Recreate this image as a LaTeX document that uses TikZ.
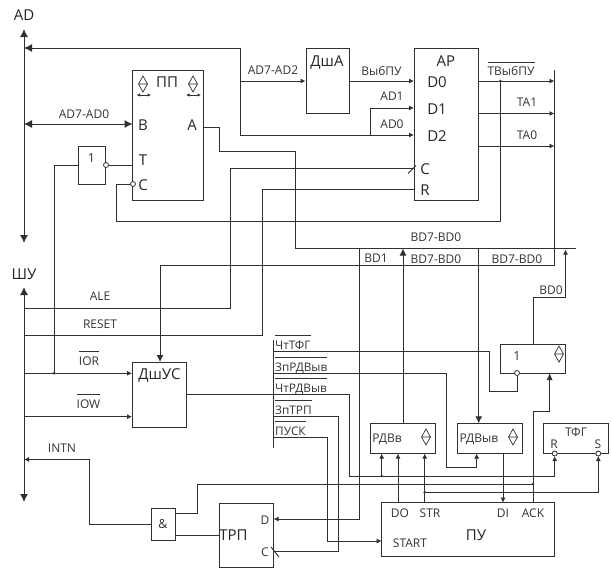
\documentclass[tikz,border=0pt]{standalone}
\usepackage{fontspec}
\setmainfont{Open Sans}
\usetikzlibrary{arrows.meta}
\newcommand\oltext[2][5pt]{\vbox{\hrule height .8pt \kern #1\hbox{#2}}}
\definecolor{ln}{HTML}{303030}
\tikzset{
  wire/.style={draw=ln,line width=.9pt},
  sig/.style={wire,-{Latex[length=5pt,width=5pt]}},
  bigsig/.style={wire,-{Latex[length=7pt,width=7pt]}},
  bus/.style={wire,line width=1pt,{Latex[length=8pt,width=8pt]}-{Latex[length=8pt,width=8pt]}},
  box/.style={draw=ln,line width=.9pt,inner sep=0pt,fill=white},
  lab/.style={inner sep=0pt,text=black!80,font=\fontsize{12}{14}\selectfont,anchor=base},
  llab/.style={inner sep=0pt,text=black!85,font=\fontsize{15}{17}\selectfont,anchor=base},
  sl/.style={inner sep=0pt,text=black!80,font=\fontsize{11.8}{14}\selectfont,anchor=base west},
  inv/.style={circle,draw=ln,line width=.8pt,fill=white,inner sep=0pt,minimum size=5pt},
  dot/.style={circle,fill=ln,inner sep=0pt,minimum size=2.8pt},
  dia/.pic={\draw[ln,line width=.7pt] (0,-8) -- (4.5,0) -- (0,8) -- (-4.5,0) -- cycle (-4.5,0) -- (4.5,0);},
  dbl/.style={draw=ln,line width=.8pt,{Latex[length=3.5pt,width=3.5pt]}-{Latex[length=3.5pt,width=3.5pt]}}
}
\begin{document}
\begin{tikzpicture}[x=1pt,y=-1pt]
\useasboundingbox (0,0) rectangle (612,571);
% boxes
\node[box,minimum width=70.5pt,minimum height=129.5pt] (pp) at (167.75,135.25) {};
\node[box,minimum width=27.5pt,minimum height=38pt] (inv1) at (91.75,165) {};
\node[box,minimum width=43pt,minimum height=65pt] (dsha) at (327.5,81) {};
\node[box,minimum width=64.7pt,minimum height=151.5pt] (ar) at (446.35,124.25) {};
\node[box,minimum width=54pt,minimum height=65pt] (dshus) at (159.5,394.5) {};
\node[box,minimum width=64.5pt,minimum height=29pt] (or1) at (532.75,358.5) {};
\node[box,minimum width=65pt,minimum height=30.2pt] (rdvv) at (402.8,438.4) {};
\node[box,minimum width=65pt,minimum height=30.2pt] (rdvyv) at (489.5,438.4) {};
\node[box,minimum width=65pt,minimum height=30.2pt] (tfg) at (576.2,438.4) {};
\node[box,minimum width=173pt,minimum height=54pt] (pu) at (468.2,529.7) {};
\node[box,minimum width=24.4pt,minimum height=32.4pt] (and1) at (163.5,524.5) {};
\node[box,minimum width=54pt,minimum height=64.4pt] (trp) at (246.3,535.5) {};
% named pin and bus coordinates
\coordinate (adT) at (24,29); \coordinate (adB) at (24,243);
\coordinate (shT) at (24,287); \coordinate (shB) at (24,502);
\coordinate (ad48) at (24,48); \coordinate (ad124) at (24,124);
\coordinate (ale) at (24,308); \coordinate (rst) at (24,335);
\coordinate (ior) at (24,373.3); \coordinate (iow) at (24,416.7); \coordinate (intn) at (24,459.5);
\coordinate (ppB) at (132.5,124); \coordinate (ppA) at (203,127); \coordinate (ppT) at (132.5,165); 
\coordinate (ppC) at (132.5,184);
\coordinate (arD0) at (414,81); \coordinate (arD1) at (414,108); \coordinate (arD2) at (414,135);
\coordinate (arC) at (414,168); \coordinate (arR) at (414,189);
\coordinate (busT) at (554.5,70); \coordinate (busB) at (554.5,265);
\coordinate (usIn) at (160,362); \coordinate (usIor) at (132,373.3); \coordinate (usIow) at (132,416.7);
\coordinate (usOut) at (187,394.5);
\coordinate (ctlT) at (273.5,340); \coordinate (ctlB) at (273.5,448);
% buses
\draw[bus] (adT) -- (adB);
\draw[bus] (shT) -- (shB);
% top part
\draw[wire,-{Latex[length=8pt,width=8pt]}] (240,135) -- (240,48) -- (ad48);
\draw[sig] (240,135) -- (arD2);
\draw[sig] (240,81) -- (dsha.west |- 240,81);
\draw[sig] (dsha.east |- 0,81) -- (arD0);
\draw[sig] (370.3,135) -- (370.3,108) -- (arD1);
\draw[wire,line width=1pt,{Latex[length=8pt,width=8pt]}-{Latex[length=8pt,width=8pt]}] (ad124) -- (ppB);
\draw[wire] (ppA) -- (219,127) -- (219,151) -- (295,151) -- (295,248) -- (576,248);
\draw[wire] (arC) -- (230,168) -- (230,308) -- (ale);
\draw[wire] (arR) -- (262,189) -- (262,335) -- (rst);
\draw[wire] (ppC) -- (116,184) -- (116,221.5) -- (500.5,221.5) -- (500.5,81);
\draw[wire] (408,173.5) -- (416,165.5);
\draw[wire] (inv1.east |- 0,165) -- (ppT);
\draw[wire] (usIor -| 54,0) -- (54,165) -- (inv1.west |- 0,165);
\node[dot] (d1) at (54,373.3) {};
\draw[sig] (ior) -- (usIor);
\draw[sig] (iow) -- (usIow);
\coordinate (h265) at (160,265);
\draw[wire] (h265) -- (busB);
\draw[wire] (busT) -- (busB);
\draw[bigsig] (h265) -- (usIn);
\draw[sig] (478.7,81) -- (busT |- 0,81);
\draw[sig] (478.7,113.5) -- (busT |- 0,113.5);
\draw[sig] (478.7,146) -- (busT |- 0,146);
\node[dot] (d2) at (500.5,81) {};
% controls
\draw[wire] (usOut) -- (273.5,394.5);
\draw[wire] (ctlT) -- (ctlB);
\draw[wire] (273.5,351.7) -- (489,351.7) -- (489,391.7) -- (517,391.7) -- (517,373);
\draw[sig] (273.5,373) -- (446,373) -- (446,467.7) -- (476.7,467.7) -- (476.7,453.5);
\draw[sig] (273.5,394.5) -- (349,394.5) -- (349,476) -- (554.7,476) -- (554.7,456);
\draw[sig] (381.7,476) -- (381.7,453.5);
\node[dot] (d3) at (381.7,476) {};
\draw[wire] (273.5,416.7) -- (338,416.7) -- (338,551.7) -- (273.5,551.7);
\draw[wire] (271,547) -- (279,557);
\draw[sig] (273.5,437.7) -- (327.7,437.7) -- (327.7,541) -- (381.7,541);
% BD verticals
\draw[bigsig] (403,423.3) -- (403,248.5);
\draw[bigsig] (478.7,248) -- (478.7,423.3);
\draw[sig] (359.3,248) -- (359.3,519) -- (273.5,519);
\draw[wire] (533,344) -- (533,297.5) -- (565.5,297.5);
\draw[sig] (565.5,297.5) -- (565.5,249.5);
% PU
\draw[sig] (398,502.7) -- (398,453.5);
\draw[sig] (424.7,502.7) -- (424.7,453.5);
\draw[sig] (424.7,492.3) -- (598.3,492.3) -- (598.3,456);
\node[dot] (d4) at (424.7,492.3) {};
\draw[sig] (503,453.5) -- (503,502.7);
\draw[wire] (533,502.7) -- (533,411);
\draw[sig,-{Latex[length=7pt,width=6pt]}] (533,411) -- (549.7,411) -- (549.7,373);
\draw[wire] (533,484) -- (197.3,484) -- (197.3,513.7) -- (175.7,513.7);
\node[dot] (d5) at (533,484) {};
\draw[sig] (and1.west) -- (89.3,524.5) -- (89.3,459.5) -- (intn);
\draw[wire] (175.7,535) -- (219.3,535);
% inverters
\node[inv] (c1) at (106,165) {};
\node[inv] (c2) at (133,184) {};
\node[inv] (c3) at (517,373) {};
\node[inv] (c4) at (554.7,453.5) {};
\node[inv] (c5) at (598.3,453.5) {};
% diamonds
\pic at (143,84) {dia}; \pic at (193,84) {dia};
\pic at (559,354) {dia}; \pic at (426,437) {dia}; \pic at (513,437) {dia};
\draw[dbl] (136.5,95) -- (151,95);
\draw[dbl] (186,95) -- (201,95);
% labels
\node[llab] (tAD) at (24,20) {AD};
\node[llab] (tSH) at (24,279) {ШУ};
\node[lab] (t1) at (84,118) {AD7-AD0};
\node[lab] (t2) at (273,74) {AD7-AD2};
\node[lab] (t3) at (381.5,75) {ВыбПУ};
\node[lab] (t4) at (392,100) {AD1};
\node[lab] (t5) at (392,128) {AD0};
\node[lab] (t6) at (511,75) {\oltext[3pt]{ТВыбПУ}};
\node[lab] (t7) at (527,106) {TA1};
\node[lab] (t8) at (527,139) {TA0};
\node[lab] (t9) at (436,241) {BD7-BD0};
\node[lab] (t10) at (376,262) {BD1};
\node[lab] (t11) at (436,263) {BD7-BD0};
\node[lab] (t12) at (517,263) {BD7-BD0};
\node[lab] (t13) at (551,294) {BD0};
\node[lab] (t14) at (100,300) {ALE};
\node[lab] (t15) at (100,328) {RESET};
\node[lab] (t16) at (89,365) {\oltext{IOR}};
\node[lab] (t17) at (88.5,408) {\oltext{IOW}};
\node[lab] (t18) at (62,452) {INTN};
\node[sl] (s1) at (275,349) {\oltext{ЧтТФГ}};
\node[sl] (s2) at (275,371) {\oltext{ЗпРДВыв}};
\node[sl] (s3) at (275,392) {\oltext{ЧтРДВыв}};
\node[sl] (s4) at (275,414) {\oltext{ЗпТРП}};
\node[sl] (s5) at (275,435) {\oltext{ПУСК}};
\node[llab] (p1) at (167,87) {ПП};
\node[llab] (p2) at (143,130) {B};
\node[llab] (p3) at (192,130) {A};
\node[llab] (p4) at (143,165) {T};
\node[llab] (p5) at (143,190) {C};
\node[lab,font=\fontsize{12.5}{14}\selectfont] (p6) at (91.5,162) {1};
\node[llab] (p7) at (327,66) {ДшА};
\node[llab] (p8) at (446,66) {АР};
\node[llab] (p9) at (437,87) {D0};
\node[llab] (p10) at (437,114) {D1};
\node[llab] (p11) at (437,141) {D2};
\node[llab] (p12) at (425,174) {C};
\node[llab] (p13) at (425,195) {R};
\node[llab] (p14) at (159.5,379) {ДшУС};
\node[lab,font=\fontsize{12.5}{14}\selectfont] (p15) at (517,360) {1};
\node[lab] (p16) at (387,442) {РДВв};
\node[lab] (p17) at (479,442) {РДВыв};
\node[lab] (p18) at (576,436) {ТФГ};
\node[lab] (p19) at (554,448) {R};
\node[lab] (p20) at (598,448) {S};
\node[lab] (p21) at (400,517) {DO};
\node[lab] (p22) at (430,517) {STR};
\node[lab] (p23) at (503,517) {DI};
\node[lab] (p24) at (533,517) {ACK};
\node[lab] (p25) at (410,547) {START};
\node[llab] (p26) at (476,540) {ПУ};
\node[lab,font=\fontsize{12.5}{14}\selectfont] (p27) at (163,528) {\&};
\node[llab] (p28) at (233.5,540) {ТРП};
\node[lab] (p29) at (265,524) {D};
\node[lab] (p30) at (265,556) {C};
\end{tikzpicture}
\end{document}
